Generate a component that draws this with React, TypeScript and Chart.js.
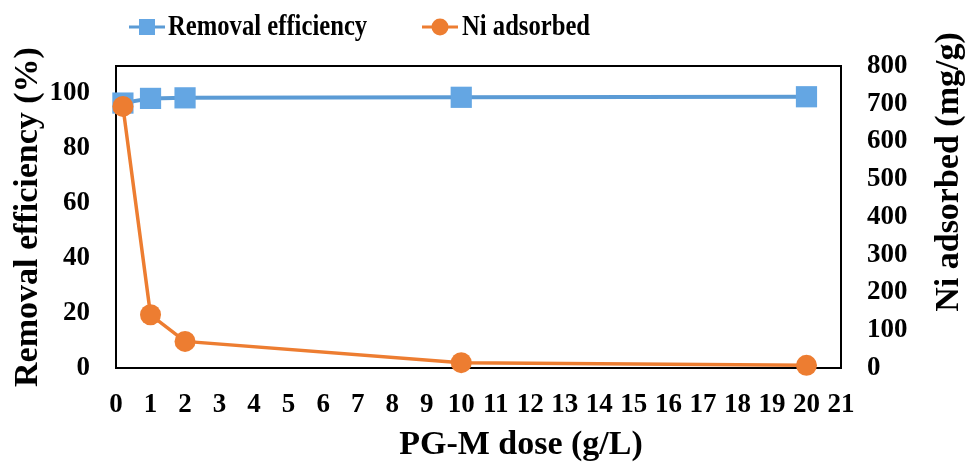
import React, { useEffect, useRef } from "react";
import { Chart, registerables } from "chart.js";

Chart.register(...registerables);

const doses = [0.2, 1, 2, 10, 20];
const removalEfficiency = [96.5, 98.2, 98.4, 98.6, 98.8];
const niAdsorbed = [693, 141, 70.5, 14.2, 7.1];
const leftTickValues = [0, 20, 40, 60, 80, 100];
const seriesNames = ["Removal efficiency", "Ni adsorbed"];
const xTitle = "PG-M dose (g/L)";
const yLeftTitle = "Removal efficiency (%)";
const yRightTitle = "Ni adsorbed (mg/g)";

const BLUE_LINE = "#5B9BD5";
const BLUE_PT = "#64A6E3";
const ORANGE = "#ED7D31";
const FONT = "'Liberation Serif', 'Times New Roman', serif";

const decorPlugin = {
  id: "decor",
  beforeDatasetsDraw(chart: any) {
    const { ctx, chartArea } = chart;
    ctx.save();
    ctx.strokeStyle = "#000";
    ctx.lineWidth = 2;
    ctx.strokeRect(chartArea.left, chartArea.top, chartArea.right - chartArea.left, chartArea.bottom - chartArea.top);
    ctx.restore();
  },
  afterDraw(chart: any) {
    const { ctx } = chart;
    ctx.save();
    ctx.fillStyle = "#000";
    ctx.font = `bold 34px ${FONT}`;
    ctx.textAlign = "center";
    ctx.textBaseline = "middle";
    ctx.fillText(xTitle, 521, 445);
    ctx.save();
    ctx.translate(28, 217);
    ctx.rotate(-Math.PI / 2);
    ctx.fillText(yLeftTitle, 0, 0);
    ctx.restore();
    ctx.save();
    ctx.translate(949, 172);
    ctx.rotate(-Math.PI / 2);
    ctx.fillText(yRightTitle, 0, 0);
    ctx.restore();

    // legend
    const items = [
      { x0: 129, x1: 165, tx: 168, line: BLUE_LINE, pt: BLUE_PT, style: "rect", label: seriesNames[0] },
      { x0: 422, x1: 458, tx: 462, line: ORANGE, pt: ORANGE, style: "circle", label: seriesNames[1] },
    ];
    const ly = 27;
    ctx.font = `bold 29px ${FONT}`;
    ctx.textAlign = "left";
    for (const it of items) {
      ctx.strokeStyle = it.line;
      ctx.lineWidth = 3;
      ctx.beginPath();
      ctx.moveTo(it.x0, ly);
      ctx.lineTo(it.x1, ly);
      ctx.stroke();
      const cx = (it.x0 + it.x1) / 2;
      ctx.fillStyle = it.pt;
      if (it.style === "rect") {
        ctx.fillRect(cx - 8, ly - 8, 16, 16);
      } else {
        ctx.beginPath();
        ctx.arc(cx, ly, 8.5, 0, Math.PI * 2);
        ctx.fill();
      }
      ctx.fillStyle = "#000";
      ctx.save();
      ctx.translate(it.tx, ly + 1);
      ctx.scale(0.85, 1);
      ctx.fillText(it.label, 0, 0);
      ctx.restore();
    }
    ctx.restore();
  },
};

export default function App() {
  const ref = useRef<HTMLCanvasElement | null>(null);
  useEffect(() => {
    if (!ref.current) return;
    const tickFont = { family: FONT, size: 27, weight: "bold" as const };
    const chart = new Chart(ref.current, {
      type: "line",
      data: {
        datasets: [
          {
            label: seriesNames[0],
            data: doses.map((d, i) => ({ x: d, y: removalEfficiency[i] })),
            borderColor: BLUE_LINE,
            backgroundColor: BLUE_PT,
            borderWidth: 4,
            pointStyle: "rect",
            pointRadius: 15,
            pointBorderWidth: 0,
            pointBackgroundColor: BLUE_PT,
            yAxisID: "y",
            order: 1,
            clip: false as any,
          },
          {
            label: seriesNames[1],
            data: doses.map((d, i) => ({ x: d, y: niAdsorbed[i] })),
            borderColor: ORANGE,
            backgroundColor: ORANGE,
            borderWidth: 3.5,
            pointStyle: "circle",
            pointRadius: 10.5,
            pointBorderWidth: 0,
            pointBackgroundColor: ORANGE,
            yAxisID: "y1",
            order: 0,
            clip: false as any,
          },
        ],
      },
      options: {
        animation: false,
        responsive: false,
        devicePixelRatio: 1,
        layout: { padding: { top: 66, left: 0, right: 0, bottom: 0 } },
        plugins: { legend: { display: false }, tooltip: { enabled: false } },
        scales: {
          x: {
            type: "linear",
            min: 0,
            max: 21,
            grid: { display: false, drawTicks: false },
            border: { display: false },
            ticks: { stepSize: 1, autoSkip: false, maxRotation: 0, padding: 21, color: "#000", font: tickFont },
            afterFit: (s: any) => { s.height = 96; },
          },
          y: {
            type: "linear",
            position: "left",
            min: 0,
            max: 110,
            grid: { display: false, drawTicks: false },
            border: { display: false },
            ticks: { padding: 26, color: "#000", font: tickFont },
            afterBuildTicks: (s: any) => { s.ticks = leftTickValues.map((v) => ({ value: v })); },
            afterFit: (s: any) => { s.width = 116; },
          },
          y1: {
            type: "linear",
            position: "right",
            min: 0,
            max: 800,
            grid: { display: false, drawTicks: false },
            border: { display: false },
            ticks: { stepSize: 100, padding: 26, color: "#000", font: tickFont },
            afterFit: (s: any) => { s.width = 130; },
          },
        },
      } as any,
      plugins: [decorPlugin],
    });
    return () => chart.destroy();
  }, []);
  return (
    <div style={{ position: "fixed", left: 0, top: 0, width: 971, height: 464, background: "#fff" }}>
      <canvas ref={ref} width={971} height={464} />
    </div>
  );
}
